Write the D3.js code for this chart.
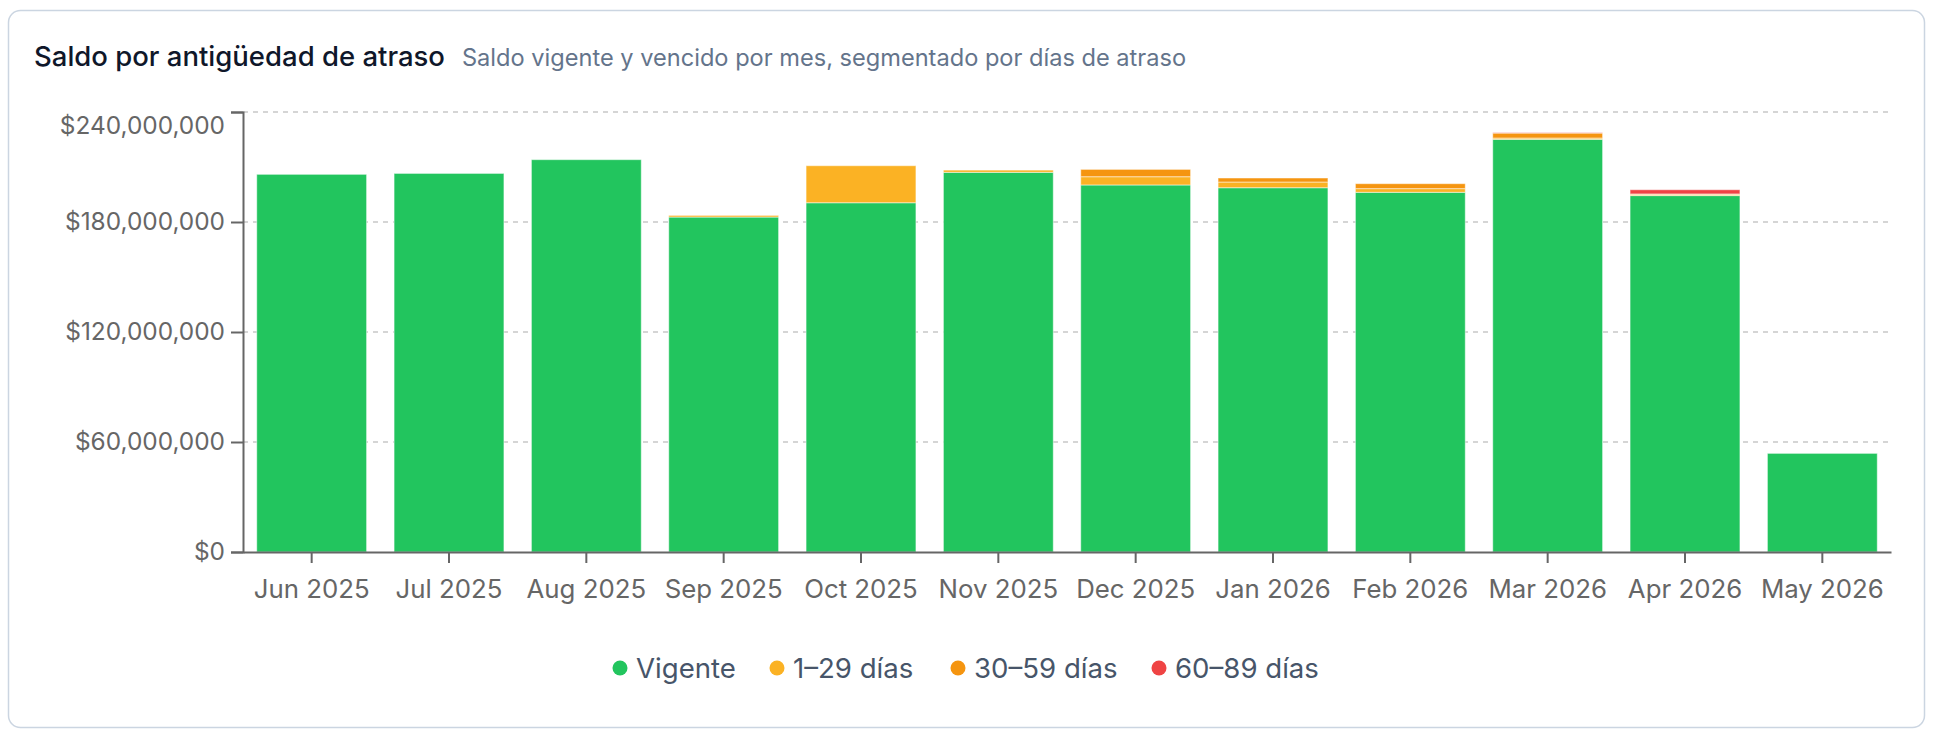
<!DOCTYPE html>
<html>
<head>
<meta charset="utf-8">
<script src="https://cdn.jsdelivr.net/npm/d3@7"></script>
<style>
  html, body { margin: 0; padding: 0; background: #fff; }
  body { font-family: Inter, "Noto Sans", sans-serif; }
</style>
</head>
<body>
<div id="chart"></div>
<script>
// data (dollars)
var MONTHS = ['Jun 2025', 'Jul 2025', 'Aug 2025', 'Sep 2025', 'Oct 2025', 'Nov 2025',
  'Dec 2025', 'Jan 2026', 'Feb 2026', 'Mar 2026', 'Apr 2026', 'May 2026'];
var VIGENTE = [206.0e6, 206.5e6, 214.0e6, 182.7e6, 190.5e6, 207.1e6, 200.2e6, 198.7e6, 196.2e6, 225.1e6, 194.4e6, 53.8e6];
var DIAS_1_29 = [0, 0, 0, 0.9e6, 20.2e6, 1.2e6, 4.5e6, 3.1e6, 2.0e6, 0.7e6, 0.5e6, 0];
var DIAS_30_59 = [0, 0, 0, 0, 0, 0, 4.0e6, 2.2e6, 2.7e6, 2.7e6, 0.4e6, 0];
var DIAS_60_89 = [0, 0, 0, 0, 0, 0, 0, 0, 0, 0.2e6, 2.3e6, 0];
var Y_TICKS = [0, 60e6, 120e6, 180e6, 240e6];

var SERIES = [
  { key: 'vigente', label: 'Vigente', values: VIGENTE, color: '#22c55e' },
  { key: 'd1', label: '1–29 días', values: DIAS_1_29, color: '#fbb224' },
  { key: 'd30', label: '30–59 días', values: DIAS_30_59, color: '#f59510' },
  { key: 'd60', label: '60–89 días', values: DIAS_60_89, color: '#ef4444' }
];

var W = 1934, H = 736;
var MARGIN = { top: 112, right: 43, bottom: 184, left: 243 };
var WIDTH = W - MARGIN.left - MARGIN.right;
var HEIGHT = H - MARGIN.top - MARGIN.bottom;

var svg = d3.select('#chart').append('svg')
  .attr('width', W)
  .attr('height', H);

// card
svg.append('rect')
  .attr('x', 8.5).attr('y', 10.5)
  .attr('width', 1916).attr('height', 717)
  .attr('rx', 12)
  .attr('fill', '#fff')
  .attr('stroke', '#cbd5e1')
  .attr('stroke-width', 1.5);

// title + subtitle
var head = svg.append('text')
  .attr('x', 34).attr('y', 66);
head.append('tspan')
  .attr('font-size', 27.5).attr('font-weight', 500).attr('fill', '#0f172a')
  .text('Saldo por antigüedad de atraso');
head.append('tspan')
  .attr('dx', 17)
  .attr('font-size', 23.6).attr('fill', '#64748b')
  .text('Saldo vigente y vencido por mes, segmentado por días de atraso');

var g = svg.append('g')
  .attr('transform', 'translate(' + MARGIN.left + ',' + MARGIN.top + ')');

var x = d3.scaleBand()
  .domain(MONTHS)
  .range([0, WIDTH])
  .paddingInner(0.2)
  .paddingOuter(0.1);

var y = d3.scaleLinear()
  .domain([0, 240e6])
  .range([HEIGHT, 0]);

// gridlines
g.append('g')
  .selectAll('line')
  .data(Y_TICKS.filter(function (d) { return d > 0; }))
  .join('line')
    .attr('x1', 0).attr('x2', WIDTH)
    .attr('y1', function (d) { return y(d); })
    .attr('y2', function (d) { return y(d); })
    .attr('stroke', '#c8c8c8')
    .attr('stroke-width', 1.5)
    .attr('stroke-dasharray', '5,5');

// stacked bars
var rows = MONTHS.map(function (m, i) {
  var row = { month: m };
  SERIES.forEach(function (s) { row[s.key] = s.values[i]; });
  return row;
});

var stack = d3.stack().keys(SERIES.map(function (s) { return s.key; }));
var layers = stack(rows);

g.append('g')
  .selectAll('g')
  .data(layers)
  .join('g')
    .attr('fill', function (d, i) { return SERIES[i].color; })
  .selectAll('rect')
  .data(function (d) { return d; })
  .join('rect')
    .attr('x', function (d) { return x(d.data.month); })
    .attr('y', function (d) { return y(d[1]); })
    .attr('width', x.bandwidth())
    .attr('height', function (d) { return y(d[0]) - y(d[1]); })
    .attr('stroke', '#fff')
    .attr('stroke-opacity', 0.5)
    .attr('stroke-width', 1);

// axes
var yAxis = g.append('g')
  .call(d3.axisLeft(y).tickValues(Y_TICKS).tickFormat(d3.format('$,')).tickSize(12).tickPadding(6));

var xAxis = g.append('g')
  .attr('transform', 'translate(0,' + HEIGHT + ')')
  .call(d3.axisBottom(x).tickSize(11).tickSizeOuter(0).tickPadding(17));

[yAxis, xAxis].forEach(function (ax) {
  ax.select('.domain').attr('stroke', '#666').attr('stroke-width', 2);
  ax.selectAll('.tick line').attr('stroke', '#666').attr('stroke-width', 2);
  ax.selectAll('.tick text')
    .attr('fill', '#666')
    .attr('font-family', 'Inter, "Noto Sans", sans-serif');
});
yAxis.selectAll('.tick text').attr('font-size', 24.4);
xAxis.selectAll('.tick text').attr('font-size', 25.8);
// top label sits just below the top of the axis
yAxis.selectAll('.tick text')
  .filter(function (d) { return d === 240e6; })
  .attr('dy', '0.9em');

// legend
var LEGEND_X = [620, 777, 958, 1159];
var legend = svg.append('g');
var item = legend.selectAll('g')
  .data(SERIES)
  .join('g')
    .attr('transform', function (d, i) { return 'translate(' + LEGEND_X[i] + ',668)'; });
item.append('circle')
  .attr('r', 7.5)
  .attr('fill', function (d) { return d.color; });
item.append('text')
  .attr('x', 16)
  .attr('dy', '0.35em')
  .attr('font-size', 27.6)
  .attr('fill', '#475569')
  .text(function (d) { return d.label; });
</script>
</body>
</html>
